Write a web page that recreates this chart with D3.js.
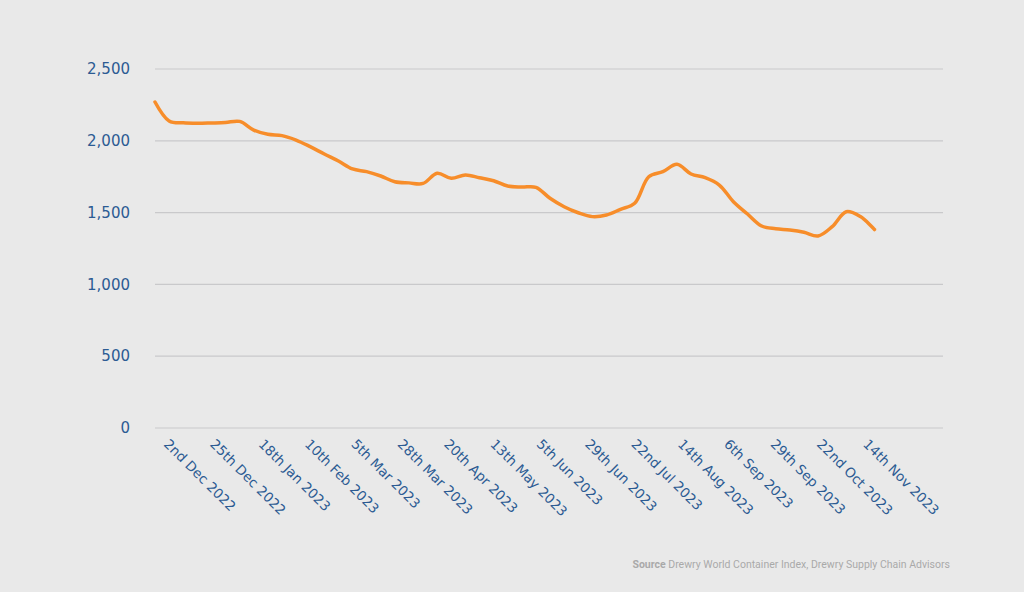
<!DOCTYPE html>
<html>
<meta charset="utf-8" />
<style>
  body { margin: 0; background: #e9e9e9; }
  svg { display: block; font-family: Roboto, "DejaVu Sans", sans-serif; }
  .grid line { stroke: #c9c9cb; stroke-width: 1.2; }
  .ylab { fill: #2c5b93; font-size: 15px; font-family: "DejaVu Sans", sans-serif; }
  .xlab { fill: #2c5b93; font-size: 13.5px; font-family: "DejaVu Sans", sans-serif; }
</style>
<body>
<script src="https://d3js.org/d3.v7.min.js"></script>
<script>
  let width = 1024,
    height = 592;

  // weekly index values, first week 1 Dec 2022
  let startDate = "2022-12-01";
  let values = [
    2270, 2138, 2125, 2122, 2124, 2127, 2135, 2075, 2045, 2036,
    2005, 1959, 1908, 1859, 1804, 1785, 1755, 1715, 1707, 1703,
    1774, 1739, 1762, 1743, 1722, 1685, 1678, 1676, 1600, 1541,
    1499, 1472, 1483, 1523, 1565, 1750, 1785, 1836, 1769, 1743,
    1692, 1576, 1490, 1407, 1388, 1379, 1363, 1337, 1402, 1506,
    1472, 1382
  ];
  let tickDates = [
    "2022-12-02", "2022-12-25", "2023-01-18", "2023-02-10",
    "2023-03-05", "2023-03-28", "2023-04-20", "2023-05-13",
    "2023-06-05", "2023-06-29", "2023-07-22", "2023-08-14",
    "2023-09-06", "2023-09-29", "2023-10-22", "2023-11-14"
  ];
  let tickLabels = [
    "2nd Dec 2022", "25th Dec 2022", "18th Jan 2023", "10th Feb 2023",
    "5th Mar 2023", "28th Mar 2023", "20th Apr 2023", "13th May 2023",
    "5th Jun 2023", "29th Jun 2023", "22nd Jul 2023", "14th Aug 2023",
    "6th Sep 2023", "29th Sep 2023", "22nd Oct 2023", "14th Nov 2023"
  ];
  let yTicks = [0, 500, 1000, 1500, 2000, 2500];

  let parse = d3.utcParse("%Y-%m-%d");
  let t0 = parse(startDate);
  let data = values.map((v, i) => ({
    date: d3.utcDay.offset(t0, i * 7),
    value: v,
  }));

  let x = d3
    .scaleUtc()
    .domain([t0, d3.utcDay.offset(t0, 391)])
    .range([155, 943]);

  let y = d3.scaleLinear().domain([0, 2500]).range([428, 69]);

  let svg = d3
    .select("body")
    .append("svg")
    .attr("width", width)
    .attr("height", height);

  svg
    .append("rect")
    .attr("width", width)
    .attr("height", height)
    .attr("fill", "#e9e9e9");

  // gridlines
  svg
    .append("g")
    .attr("class", "grid")
    .selectAll("line")
    .data(yTicks)
    .join("line")
    .attr("x1", x.range()[0])
    .attr("x2", x.range()[1])
    .attr("y1", (d) => y(d))
    .attr("y2", (d) => y(d));

  // y labels
  svg
    .append("g")
    .selectAll("text")
    .data(yTicks)
    .join("text")
    .attr("class", "ylab")
    .attr("x", 130)
    .attr("y", (d) => y(d))
    .attr("dy", "0.35em")
    .attr("text-anchor", "end")
    .text((d) => d3.format(",")(d));

  // x labels, rotated
  svg
    .append("g")
    .selectAll("text")
    .data(tickDates)
    .join("text")
    .attr("class", "xlab")
    .attr("transform", (d) => {
      let px = x(parse(d)) + 6;
      return "translate(" + px + ",445) rotate(45)";
    })
    .text((d, i) => tickLabels[i]);

  let line = d3
    .line()
    .x((d) => x(d.date))
    .y((d) => y(d.value))
    .curve(d3.curveCatmullRom.alpha(0.5));

  svg
    .append("path")
    .datum(data)
    .attr("fill", "none")
    .attr("stroke", "#f78d2a")
    .attr("stroke-width", 3.5)
    .attr("stroke-linejoin", "round")
    .attr("stroke-linecap", "round")
    .attr("d", line);

  // source note
  let src = svg
    .append("text")
    .attr("x", 950)
    .attr("y", 568)
    .attr("text-anchor", "end")
    .attr("fill", "#a9a9a9")
    .style("font-size", "10.5px");
  src.append("tspan").attr("font-weight", "bold").text("Source");
  src.append("tspan").text("  Drewry World Container Index, Drewry Supply Chain Advisors");
</script>
</body>
</html>
